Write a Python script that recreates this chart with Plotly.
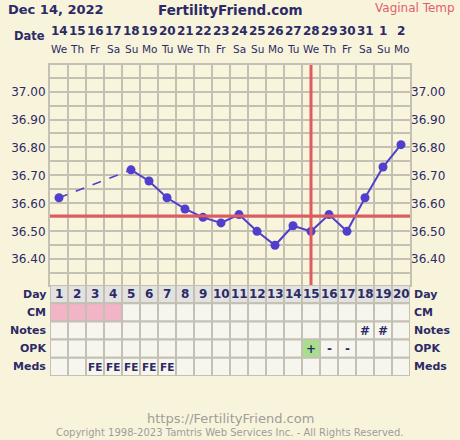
import plotly.graph_objects as go

days = list(range(1, 21))
dates = ["14", "15", "16", "17", "18", "19", "20", "21", "22", "23",
         "24", "25", "26", "27", "28", "29", "30", "31", "1", "2"]
weekdays = ["We", "Th", "Fr", "Sa", "Su", "Mo", "Tu", "We", "Th", "Fr",
            "Sa", "Su", "Mo", "Tu", "We", "Th", "Fr", "Sa", "Su", "Mo"]
temps = [36.62, None, None, None, 36.72, 36.68, 36.62, 36.58, 36.55, 36.53,
         36.56, 36.50, 36.45, 36.52, 36.50, 36.56, 36.50, 36.62, 36.73, 36.81]
coverline = 36.555
ovulation_day = 15

row_names = ["Day", "CM", "Notes", "OPK", "Meds"]
cm_days = [1, 2, 3, 4]
notes = {18: "#", 19: "#"}
opk = {15: "+", 16: "-", 17: "-"}
opk_positive = [15]
meds = {3: "FE", 4: "FE", 5: "FE", 6: "FE", 7: "FE"}

W, H = 460, 440
navy = "#2c2a66"
grid = "#c4c0b4"
bg = "#f8f4dc"
font = "DejaVu Sans"


def py(px):
    return 1 - px / H


fig = go.Figure()

# dashed part where days are missing
fig.add_trace(go.Scatter(
    x=[days[0], days[4]], y=[temps[0], temps[4]],
    mode="lines", line=dict(color="#4f3fcc", width=1.5, dash="dash"),
    showlegend=False, hoverinfo="skip"))
fig.add_trace(go.Scatter(
    x=days[4:], y=temps[4:],
    mode="lines+markers", line=dict(color="#4f3fcc", width=2),
    marker=dict(size=9, color="#4f3fcc"), showlegend=False))
fig.add_trace(go.Scatter(
    x=[days[0]], y=[temps[0]], mode="markers",
    marker=dict(size=9, color="#4f3fcc"), showlegend=False))
# right-hand axis labels
fig.add_trace(go.Scatter(x=[None], y=[None], yaxis="y3", showlegend=False))

shapes = []
annotations = []

# coverline and ovulation line
shapes.append(dict(type="line", xref="x", yref="y", x0=0.5, x1=20.5,
                   y0=coverline, y1=coverline, line=dict(color="#e05a5f", width=3),
                   layer="above"))
shapes.append(dict(type="line", xref="x", yref="y", x0=ovulation_day, x1=ovulation_day,
                   y0=36.30, y1=37.1, line=dict(color="#e05a5f", width=3),
                   layer="above"))

# table cells
for r, name in enumerate(row_names):
    for d in days:
        fill = "#f6f6ee"
        if name == "Day":
            fill = "#e2e2e0"
        elif name == "CM" and d in cm_days:
            fill = "#f2b4c6"
        elif name == "OPK" and d in opk_positive:
            fill = "#a6e08e"
        shapes.append(dict(type="rect", xref="x", yref="y2",
                           x0=d - 0.5, x1=d + 0.5, y0=r, y1=r + 1,
                           fillcolor=fill, line=dict(color=grid, width=2),
                           layer="below"))
    for xa, anchor in [(48 / W, "right"), (412 / W, "left")]:
        annotations.append(dict(x=xa, y=r + 0.5, xref="paper", yref="y2",
                                text="<b>" + name + "</b>", showarrow=False,
                                xanchor=anchor, yanchor="middle",
                                font=dict(size=11, color=navy, family=font)))

for d in days:
    annotations.append(dict(x=d, y=0.5, xref="x", yref="y2", text="<b>%d</b>" % d,
                            showarrow=False, font=dict(size=12, color=navy, family=font)))
for d, t in notes.items():
    annotations.append(dict(x=d, y=2.5, xref="x", yref="y2", text="<b>" + t + "</b>",
                            showarrow=False, font=dict(size=12, color=navy, family=font)))
for d, t in opk.items():
    annotations.append(dict(x=d, y=3.5, xref="x", yref="y2", text="<b>" + t + "</b>",
                            showarrow=False, font=dict(size=12, color=navy, family=font)))
for d, t in meds.items():
    annotations.append(dict(x=d, y=4.5, xref="x", yref="y2", text="<b>" + t + "</b>",
                            showarrow=False, font=dict(size=10.5, color=navy, family=font)))

# date header
for d, dt, wd in zip(days, dates, weekdays):
    annotations.append(dict(x=d, y=py(31), xref="x", yref="paper", text="<b>" + dt + "</b>",
                            showarrow=False, yanchor="middle",
                            font=dict(size=12, color=navy, family=font)))
    annotations.append(dict(x=d, y=py(49), xref="x", yref="paper", text=wd,
                            showarrow=False, yanchor="middle",
                            font=dict(size=10.5, color=navy, family=font)))
annotations.append(dict(x=47 / W, y=py(36), xref="paper", yref="paper", text="<b>Date</b>",
                        xanchor="right", yanchor="middle", showarrow=False,
                        font=dict(size=11.5, color=navy, family=font)))

# titles and footer
annotations += [
    dict(x=6 / W, y=py(10), xref="paper", yref="paper", text="<b>Dec 14, 2022</b>",
         xanchor="left", font=dict(size=13, color=navy, family=font)),
    dict(x=230 / W, y=py(10), xref="paper", yref="paper", text="<b>FertilityFriend.com</b>",
         font=dict(size=13.5, color=navy, family=font)),
    dict(x=457 / W, y=py(8), xref="paper", yref="paper", text="Vaginal Temp",
         xanchor="right", font=dict(size=12, color="#e0606a", family=font)),
    dict(x=230 / W, y=py(418), xref="paper", yref="paper", text="https://FertilityFriend.com",
         font=dict(size=13, color="#a09c98", family="DejaVu Sans")),
    dict(x=230 / W, y=py(432), xref="paper", yref="paper",
         text="Copyright 1998-2023 Tamtris Web Services Inc. - All Rights Reserved.",
         font=dict(size=10, color="#a09c98", family="DejaVu Sans")),
]
for a in annotations[-5:]:
    a.update(showarrow=False, yanchor="middle")

yaxis_common = dict(
    domain=[py(285), py(65)], range=[36.308, 37.095],
    dtick=0.1, tick0=36.0, tickformat=".2f",
    showgrid=True, gridcolor=grid, gridwidth=2,
    minor=dict(dtick=0.05, showgrid=True, gridcolor=grid, gridwidth=2),
    zeroline=False, ticks="", ticklen=0,
    tickfont=dict(size=12, color=navy, family="DejaVu Sans"),
)

fig.update_layout(
    width=W, height=H, margin=dict(l=0, r=0, t=0, b=0),
    paper_bgcolor=bg, plot_bgcolor="#f9f5dc",
    xaxis=dict(domain=[50 / W, 410 / W], range=[0.5, 20.5], anchor="y",
               tickvals=[d + 0.5 for d in [0] + days], showticklabels=False,
               showgrid=True, gridcolor=grid, gridwidth=2, zeroline=False,
               showline=True, linecolor=grid, linewidth=2, mirror=True),
    yaxis=dict(**yaxis_common, side="left", showline=True, linecolor=grid,
               linewidth=2, mirror=True),
    yaxis3=dict(**yaxis_common, side="right", overlaying="y", anchor="x",
                showline=False),
    yaxis2=dict(domain=[py(376), py(285)], range=[5, 0], showticklabels=False,
                showgrid=False, zeroline=False, anchor="x"),
    shapes=shapes, annotations=annotations,
    hovermode=False,
)

fig.write_html("out.html", config={"displayModeBar": False},
               post_script="document.body.style.margin='0';")
